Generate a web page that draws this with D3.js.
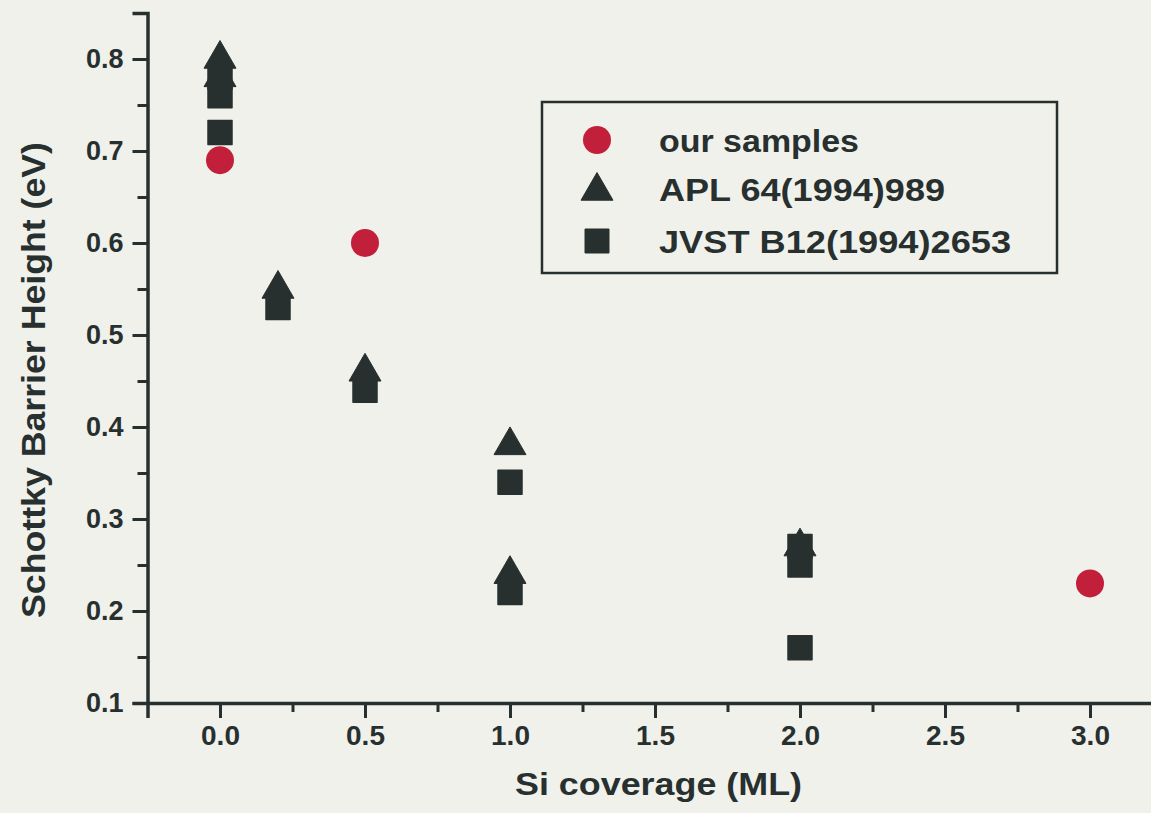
<!DOCTYPE html>
<html>
<head>
<meta charset="utf-8">
<script src="https://cdn.jsdelivr.net/npm/d3@7"></script>
<style>
  html, body { margin: 0; padding: 0; background: #f1f1eb; }
  svg { display: block; }
  text { font-family: "Liberation Sans", Arial, sans-serif; font-weight: bold; fill: #27302f; }
</style>
</head>
<body>
<svg id="chart" width="1151" height="813"></svg>
<script>
// ---- data ----
const seriesNames = ["our samples", "APL 64(1994)989", "JVST B12(1994)2653"];
const ourX = [0, 0.5, 3.0];
const ourY = [0.69, 0.60, 0.23];
const aplX = [0, 0, 0.2, 0.5, 1.0, 1.0, 2.0];
const aplY = [0.80, 0.78, 0.55, 0.46, 0.38, 0.24, 0.27];
const jvstX = [0, 0, 0, 0.2, 0.5, 1.0, 1.0, 2.0, 2.0, 2.0];
const jvstY = [0.78, 0.76, 0.72, 0.53, 0.44, 0.34, 0.22, 0.27, 0.25, 0.16];
const xTicks = [0.0, 0.5, 1.0, 1.5, 2.0, 2.5, 3.0];
const xMinorTicks = [0.25, 0.75, 1.25, 1.75, 2.25, 2.75];
const yTicks = [0.1, 0.2, 0.3, 0.4, 0.5, 0.6, 0.7, 0.8];
const yMinorTicks = [0.15, 0.25, 0.35, 0.45, 0.55, 0.65, 0.75, 0.85];
const xTitle = "Si coverage (ML)";
const yTitle = "Schottky Barrier Height (eV)";

const dark = "#27302f";
const red = "#c21f3a";

const svg = d3.select("#chart");
const x = d3.scaleLinear().domain([-0.25, 3.25]).range([147.5, 1162.5]);
const y = d3.scaleLinear().domain([0.1, 0.85]).range([703, 13]);

// axes
const xAxisG = svg.append("g").attr("transform", `translate(0,${y(0.1)})`);
xAxisG.call(d3.axisBottom(x).tickValues(xTicks).tickSize(15).tickPadding(7).tickFormat(d3.format(".1f")));
const xMinorG = svg.append("g").attr("transform", `translate(0,${y(0.1)})`);
xMinorG.call(d3.axisBottom(x).tickValues(xMinorTicks).tickSize(9).tickFormat(""));

const yAxisG = svg.append("g").attr("transform", `translate(${x(-0.25)},0)`);
yAxisG.call(d3.axisLeft(y).tickValues(yTicks).tickSize(15).tickPadding(9).tickFormat(d3.format(".1f")));
const yMinorG = svg.append("g").attr("transform", `translate(${x(-0.25)},0)`);
yMinorG.call(d3.axisLeft(y).tickValues(yMinorTicks).tickSize(10).tickFormat(""));

svg.selectAll(".domain").attr("stroke", dark).attr("stroke-width", 3.5);
svg.selectAll(".tick line").attr("stroke", dark).attr("stroke-width", 3);
xMinorG.select(".domain").remove();
yMinorG.select(".domain").remove();
xAxisG.selectAll(".tick text").attr("font-size", 28).attr("fill", dark).attr("font-family", '"Liberation Sans", Arial, sans-serif').attr("font-weight", "bold");
yAxisG.selectAll(".tick text").attr("font-size", 27).attr("fill", dark).attr("font-family", '"Liberation Sans", Arial, sans-serif').attr("font-weight", "bold");

// titles
svg.append("text").attr("x", 515).attr("y", 795).attr("font-size", 32)
  .attr("textLength", 287).attr("lengthAdjust", "spacingAndGlyphs").text(xTitle);
svg.append("text").attr("transform", "translate(45,380) rotate(-90)")
  .attr("text-anchor", "middle").attr("font-size", 33)
  .attr("textLength", 476).attr("lengthAdjust", "spacingAndGlyphs").text(yTitle);

// symbols
const circleSym = d3.symbol().type(d3.symbolCircle).size(Math.PI * 14 * 14);
const triSym = d3.symbol().type(d3.symbolTriangle).size(443);
const sqSym = d3.symbol().type(d3.symbolSquare).size(24 * 24);

const plot = svg.append("g");
plot.selectAll("path.our").data(d3.zip(ourX, ourY)).join("path").attr("class", "our")
  .attr("d", circleSym).attr("fill", red)
  .attr("transform", d => `translate(${x(d[0])},${y(d[1])})`);
plot.selectAll("path.apl").data(d3.zip(aplX, aplY)).join("path").attr("class", "apl")
  .attr("d", triSym).attr("fill", dark).attr("stroke", dark).attr("stroke-width", 1).attr("stroke-linejoin", "round")
  .attr("transform", d => `translate(${x(d[0])},${y(d[1])})`);
plot.selectAll("path.jvst").data(d3.zip(jvstX, jvstY)).join("path").attr("class", "jvst")
  .attr("d", sqSym).attr("fill", dark).attr("stroke", dark).attr("stroke-width", 1.5).attr("stroke-linejoin", "round")
  .attr("transform", d => `translate(${x(d[0])},${y(d[1])})`);

// legend
const lg = svg.append("g");
lg.append("rect").attr("x", 542).attr("y", 102).attr("width", 515).attr("height", 171)
  .attr("fill", "none").attr("stroke", dark).attr("stroke-width", 2.5);
const legendSyms = [circleSym, triSym, sqSym];
const legendFill = [red, dark, dark];
const legendSymY = [140, 191, 241];
const legendTextY = [152, 201, 253];
const legendTextW = [200, 286, 352];
seriesNames.forEach((name, i) => {
  lg.append("path").attr("d", legendSyms[i]).attr("fill", legendFill[i])
    .attr("stroke", i ? dark : "none").attr("stroke-linejoin", "round")
    .attr("transform", `translate(597,${legendSymY[i]})`);
  lg.append("text").attr("x", 659).attr("y", legendTextY[i]).attr("font-size", 32)
    .attr("textLength", legendTextW[i]).attr("lengthAdjust", "spacingAndGlyphs").text(name);
});
</script>
</body>
</html>
